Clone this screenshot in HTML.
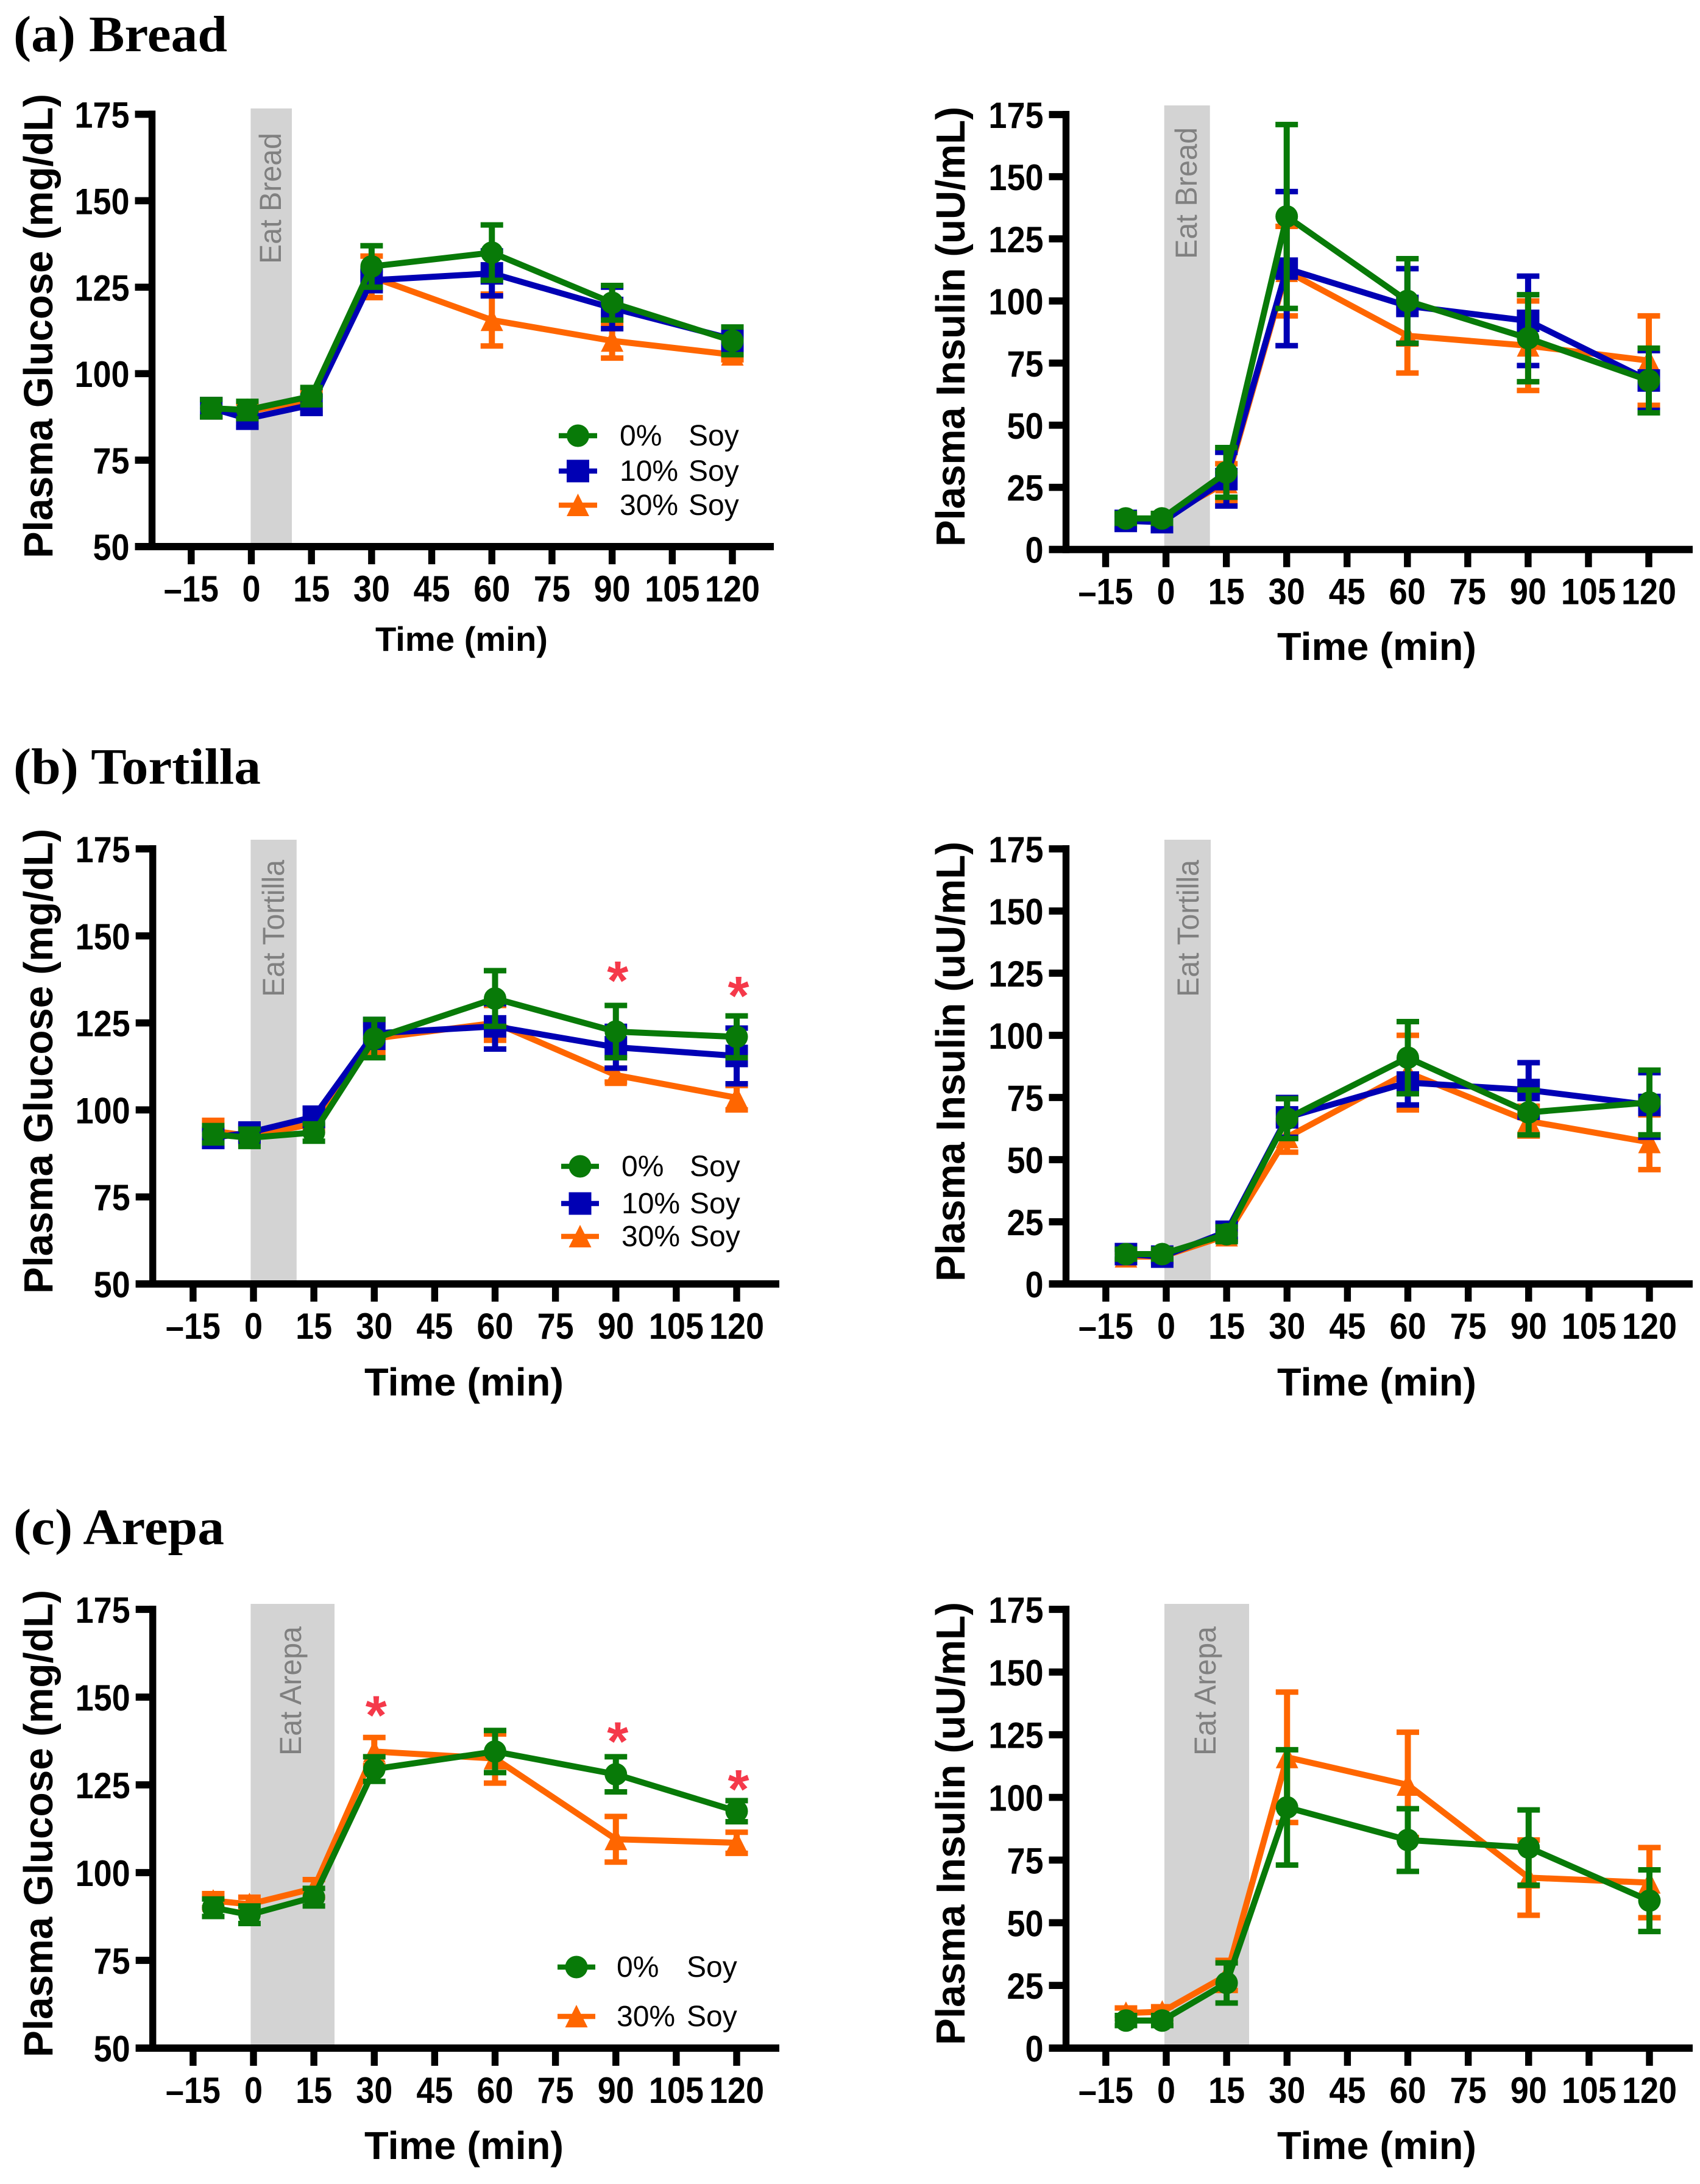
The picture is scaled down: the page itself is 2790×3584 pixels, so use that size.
<!DOCTYPE html>
<html lang="en">
<head>
<meta charset="utf-8">
<title>Plasma glucose and insulin responses by soy level</title>
<style>
html,body{margin:0;padding:0;background:#fff;}
#figure{display:block;width:2790px;height:3584px;background:#fff;}
text{font-family:"Liberation Sans",Arial,sans-serif;}
.section-title{font-family:"Liberation Serif","Times New Roman",serif;font-weight:700;font-size:84px;fill:#000;}
</style>
</head>
<body>
<svg id="figure" xmlns="http://www.w3.org/2000/svg" width="2790" height="3584" viewBox="0 0 2790 3584">
  <text class="section-title" x="22" y="84" textLength="351" lengthAdjust="spacingAndGlyphs">(a) Bread</text>
  <text class="section-title" x="22" y="1286" textLength="406" lengthAdjust="spacingAndGlyphs">(b) Tortilla</text>
  <text class="section-title" x="22" y="2534" textLength="346" lengthAdjust="spacingAndGlyphs">(c) Arepa</text>
</svg>
<script>
// ---------- shared axis data ----------
const sampleTimes = [-10, -1, 15, 30, 60, 90, 120];
const xTickValues = [-15, 0, 15, 30, 45, 60, 75, 90, 105, 120];
const xTickLabels = ['\u201315', '0', '15', '30', '45', '60', '75', '90', '105', '120'];
const glucoseTicks = [50, 75, 100, 125, 150, 175];
const insulinTicks = [0, 25, 50, 75, 100, 125, 150, 175];

// ---------- (a) bread: glucose ----------
const breadGlucose0 = [90, 89.5, 93.5, 131, 135, 120.5, 109.5];
const breadGlucose0Err = [2.5, 2.5, 2.5, 6, 8, 5, 4];
const breadGlucose10 = [90, 87, 91, 127, 129, 119, 110];
const breadGlucose10Err = [2.5, 2.5, 2.5, 3, 6.5, 6, 3];
const breadGlucose30 = [90, 89, 92.5, 128, 115.5, 109.5, 105.5];
const breadGlucose30Err = [2.5, 2.5, 2.5, 6, 7.5, 5, 1.5];
// ---------- (a) bread: insulin ----------
const breadInsulin0 = [12.5, 12.5, 31, 134, 100, 85, 68];
const breadInsulin0Err = [2, 2, 10, 37, 17, 17.5, 13];
const breadInsulin10 = [11.5, 11, 28.3, 113, 98, 92, 68];
const breadInsulin10Err = [2.5, 3, 10.8, 31, 15, 18, 12];
const breadInsulin30 = [12, 12.5, 27, 112, 86, 82, 76];
const breadInsulin30Err = [2, 2, 7.5, 18, 15, 18, 18];

// ---------- (b) tortilla: glucose ----------
const tortillaGlucose0 = [93, 92, 93.5, 120.5, 132, 122.5, 121];
const tortillaGlucose0Err = [2.5, 2.5, 2.5, 5.5, 8, 7.5, 6];
const tortillaGlucose10 = [92, 93.5, 98, 122, 124, 118, 115.5];
const tortillaGlucose10Err = [2.5, 2, 2.5, 4, 6.5, 6, 8];
const tortillaGlucose30 = [94, 92.5, 96, 120.5, 125, 110, 103.5];
const tortillaGlucose30Err = [3, 2, 2, 4, 5, 2, 3.5];
// ---------- (b) tortilla: insulin ----------
const tortillaInsulin0 = [12, 12, 20, 66.5, 91, 69, 73];
const tortillaInsulin0Err = [2, 2, 3, 8, 14.5, 9, 13];
const tortillaInsulin10 = [12, 11, 21, 67, 81, 78, 72];
const tortillaInsulin10Err = [2, 2, 3, 8, 9, 11, 13];
const tortillaInsulin30 = [11, 11, 19.5, 59, 85, 65.5, 57];
const tortillaInsulin30Err = [1.5, 1.5, 2, 6, 15, 6, 11];

// ---------- (c) arepa: glucose ----------
const arepaGlucose0 = [90, 88, 93, 129.5, 134.5, 128, 117.5];
const arepaGlucose0Err = [2.5, 2.5, 2.5, 3.5, 6, 5, 3];
const arepaGlucose30 = [92, 91, 95.5, 134.5, 132.5, 109.5, 108.5];
const arepaGlucose30Err = [2, 2, 2.5, 4, 7, 6.5, 3];
// ---------- (c) arepa: insulin ----------
const arepaInsulin0 = [11, 11, 26, 96, 83, 80, 58.8];
const arepaInsulin0Err = [2, 2, 8, 23, 12.5, 15, 12.3];
const arepaInsulin30 = [14, 14.5, 29, 116, 105, 68, 66];
const arepaInsulin30Err = [2, 2, 6, 26, 21, 15, 14];

// ---------- significance markers ----------
const tortillaStarTimes = [90, 120];
const tortillaStarLevels = [140.2, 135.8];
const arepaStarTimes = [30, 90, 120];
const arepaStarLevels = [147.8, 140.4, 126.7];

// ---------- series styling ----------
const GREEN = '#087a08', BLUE = '#0000b4', ORANGE = '#ff6600';
const S0 = {label: '0%', color: GREEN, marker: 'circle', key: '0-soy'};
const S10 = {label: '10%', color: BLUE, marker: 'square', key: '10-soy'};
const S30 = {label: '30%', color: ORANGE, marker: 'triangle', key: '30-soy'};

const NS = 'http://www.w3.org/2000/svg';
const root = document.getElementById('figure');

function mk(tag, attrs, parent) {
  const el = document.createElementNS(NS, tag);
  for (const k in attrs) el.setAttribute(k, attrs[k]);
  parent.appendChild(el);
  return el;
}

function drawMarker(kind, color, cx, cy, parent) {
  let el;
  if (kind === 'circle') {
    el = mk('circle', {cx: cx, cy: cy, r: 18.5, fill: color}, parent);
  } else if (kind === 'square') {
    el = mk('rect', {x: cx - 18.5, y: cy - 18.5, width: 37, height: 37, fill: color}, parent);
  } else {
    el = mk('polygon', {points: (cx) + ',' + (cy - 19) + ' ' + (cx + 18.5) + ',' + (cy + 18) + ' ' + (cx - 18.5) + ',' + (cy + 18), fill: color}, parent);
  }
  return el;
}

function drawChart(cfg) {
  const g = mk('g', {}, root);
  
  

  const xScale = function (t) { return cfg.x0 + (t / 120) * (cfg.x120 - cfg.x0); };
  const vMin = cfg.yTicks[0], vMax = cfg.yTicks[cfg.yTicks.length - 1];
  const yScale = function (v) { return cfg.yBottom + (v - vMin) / (vMax - vMin) * (cfg.yTop - cfg.yBottom); };

  // eating window band
  const band = mk('rect', {x: cfg.bandLeft, y: cfg.bandTop, width: cfg.bandRight - cfg.bandLeft, height: cfg.yBottom - cfg.bandTop, fill: '#d3d3d3'}, g);
  
  
  const bandLabel = mk('text', {x: 0, y: 0, transform: 'translate(' + cfg.bandTextX + ',' + cfg.bandTextY + ') rotate(-90)', fill: '#808080', 'font-size': 50, textLength: cfg.bandTextLen, lengthAdjust: 'spacingAndGlyphs'}, g);
  bandLabel.textContent = cfg.bandText;
  
  

  // series drawn back to front
  cfg.series.forEach(function (s) {
    const sg = mk('g', {}, g);
    
    
    const pts = sampleTimes.map(function (t, i) { return xScale(t) + ',' + yScale(s.values[i]); }).join(' ');
    const line = mk('polyline', {points: pts, fill: 'none', stroke: s.style.color, 'stroke-width': 10, 'stroke-linejoin': 'miter'}, sg);
    
    
    sampleTimes.forEach(function (t, i) {
      const cx = xScale(t), hi = yScale(s.values[i] + s.errs[i]), lo = yScale(s.values[i] - s.errs[i]);
      const caps = mk('path', {d: 'M' + (cx - 18.5) + ' ' + hi + 'H' + (cx + 18.5) + 'M' + (cx - 18.5) + ' ' + lo + 'H' + (cx + 18.5), fill: 'none', stroke: s.style.color, 'stroke-width': 9}, sg);
      
      
      const stem = mk('line', {x1: cx, x2: cx, y1: hi, y2: lo, stroke: s.style.color, 'stroke-width': 10}, sg);
      
      
      const m = drawMarker(s.style.marker, s.style.color, cx, yScale(s.values[i]), sg);
      
      
    });
  });

  // significance stars
  if (cfg.starTimes) {
    cfg.starTimes.forEach(function (t, i) {
      const star = mk('text', {x: xScale(t) + 3, y: yScale(cfg.starLevels[i]) + 48, 'text-anchor': 'middle', 'font-size': 90, 'font-weight': 700, fill: '#f5394a'}, g);
      star.textContent = '*';
      
      
    });
  }

  // y axis
  const yAxis = mk('g', {}, g);
  
  
  mk('line', {x1: cfg.axisX, x2: cfg.axisX, y1: cfg.yTop - 6, y2: cfg.yBottom + 6, stroke: '#000', 'stroke-width': 11.4}, yAxis);
  cfg.yTicks.forEach(function (v) {
    const y = yScale(v);
    mk('line', {x1: cfg.axisX - 28, x2: cfg.axisX, y1: y, y2: y, stroke: '#000', 'stroke-width': 11.7}, yAxis);
    const lab = mk('text', {x: 0, y: 0, transform: 'translate(' + (cfg.axisX - 37) + ',' + (y + 22) + ') scale(0.9,1)', 'text-anchor': 'end', 'font-size': 60, 'font-weight': 700, fill: '#000'}, yAxis);
    lab.textContent = String(v);
    
    
  });
  const yTitle = mk('text', {x: 0, y: 0, transform: 'translate(' + cfg.yTitleX + ',' + cfg.yTitleBottom + ') rotate(-90)', 'font-size': 67, 'font-weight': 700, fill: '#000', textLength: cfg.yTitleLen, lengthAdjust: 'spacingAndGlyphs'}, g);
  yTitle.textContent = cfg.yTitle;
  
  

  // x axis
  const xAxis = mk('g', {}, g);
  
  
  mk('line', {x1: cfg.axisX - 28, x2: cfg.axisEnd, y1: cfg.yBottom, y2: cfg.yBottom, stroke: '#000', 'stroke-width': 12}, xAxis);
  xTickValues.forEach(function (t, i) {
    const x = xScale(t);
    mk('line', {x1: x, x2: x, y1: cfg.yBottom, y2: cfg.yBottom + 29, stroke: '#000', 'stroke-width': 11.4}, xAxis);
    const lab = mk('text', {x: 0, y: 0, transform: 'translate(' + x + ',' + (cfg.yBottom + 90) + ') scale(0.9,1)', 'text-anchor': 'middle', 'font-size': 60, 'font-weight': 700, fill: '#000'}, xAxis);
    lab.textContent = xTickLabels[i];
    
    
  });
  const xTitle = mk('text', {x: cfg.xTitleX, y: cfg.xTitleY, 'font-size': cfg.xTitleSize, 'font-weight': 700, fill: '#000', textLength: cfg.xTitleLen, lengthAdjust: 'spacingAndGlyphs'}, g);
  xTitle.textContent = 'Time (min)';
  
  

  // legend
  if (cfg.legend) {
    const lg = mk('g', {}, g);
    
    
    cfg.legend.rows.forEach(function (row) {
      const st = row.style;
      const e = mk('g', {}, lg);
      
      
      const cx = (cfg.legend.x1 + cfg.legend.x2) / 2;
      mk('line', {x1: cfg.legend.x1, x2: cfg.legend.x2, y1: row.y, y2: row.y, stroke: st.color, 'stroke-width': 8.5}, e);
      drawMarker(st.marker, st.color, cx, row.y, e);
      const baseY = row.y + 16;
      const pct = mk('text', {x: cfg.legend.textX, y: baseY, 'font-size': 48, fill: '#000'}, e);
      pct.textContent = st.label;
      const soy = mk('text', {x: cfg.legend.soyX, y: baseY, 'font-size': 48, fill: '#000'}, e);
      soy.textContent = 'Soy';
    });
  }
}

const leftBase = {yTicks: glucoseTicks, yTitle: 'Plasma Glucose (mg/dL)', yTitleX: 86, yTitleLen: 762};
const rightBase = {yTicks: insulinTicks, yTitle: 'Plasma Insulin (uU/mL)', yTitleX: 1583, yTitleLen: 722, axisX: 1749.5, axisEnd: 2778, xTitleSize: 64, xTitleX: 2096, xTitleLen: 327};

drawChart(Object.assign({}, leftBase, {
  name: 'bread-glucose', axisX: 249.5, axisEnd: 1270, x0: 412.5, x120: 1202, yTop: 187.5, yBottom: 897,
  bandLeft: 411.4, bandTop: 178, bandRight: 479, bandText: 'Eat Bread', bandTextX: 461, bandTextY: 433, bandTextLen: 215,
  yTitleBottom: 916, xTitleX: 616, xTitleY: 1068, xTitleSize: 56, xTitleLen: 283,
  series: [
    {style: S30, values: breadGlucose30, errs: breadGlucose30Err},
    {style: S10, values: breadGlucose10, errs: breadGlucose10Err},
    {style: S0, values: breadGlucose0, errs: breadGlucose0Err}
  ],
  legend: {x1: 917, x2: 980, textX: 1017, soyX: 1130, rows: [{style: S0, y: 715}, {style: S10, y: 773}, {style: S30, y: 829}]}
}));

drawChart(Object.assign({}, rightBase, {
  name: 'bread-insulin', x0: 1913.6, x120: 2706, yTop: 188, yBottom: 901.7,
  bandLeft: 1910.7, bandTop: 173, bandRight: 1985.7, bandText: 'Eat Bread', bandTextX: 1964, bandTextY: 425, bandTextLen: 216,
  yTitleBottom: 897, xTitleY: 1083,
  series: [
    {style: S30, values: breadInsulin30, errs: breadInsulin30Err},
    {style: S10, values: breadInsulin10, errs: breadInsulin10Err},
    {style: S0, values: breadInsulin0, errs: breadInsulin0Err}
  ]
}));

drawChart(Object.assign({}, leftBase, {
  name: 'tortilla-glucose', axisX: 250.7, axisEnd: 1279, x0: 416, x120: 1209, yTop: 1393, yBottom: 2107,
  bandLeft: 411.4, bandTop: 1378, bandRight: 486.8, bandText: 'Eat Tortilla', bandTextX: 466, bandTextY: 1636, bandTextLen: 225,
  yTitleBottom: 2123, yTitleLen: 763, xTitleX: 598, xTitleY: 2290, xTitleSize: 64, xTitleLen: 327,
  series: [
    {style: S30, values: tortillaGlucose30, errs: tortillaGlucose30Err},
    {style: S10, values: tortillaGlucose10, errs: tortillaGlucose10Err},
    {style: S0, values: tortillaGlucose0, errs: tortillaGlucose0Err}
  ],
  starTimes: tortillaStarTimes, starLevels: tortillaStarLevels,
  legend: {x1: 921, x2: 983, textX: 1020, soyX: 1132, rows: [{style: S0, y: 1914}, {style: S10, y: 1975}, {style: S30, y: 2029}]}
}));

drawChart(Object.assign({}, rightBase, {
  name: 'tortilla-insulin', x0: 1914, x120: 2707, yTop: 1393, yBottom: 2107,
  bandLeft: 1911, bandTop: 1378, bandRight: 1987, bandText: 'Eat Tortilla', bandTextX: 1967, bandTextY: 1636, bandTextLen: 225,
  yTitleBottom: 2103, xTitleY: 2290,
  series: [
    {style: S30, values: tortillaInsulin30, errs: tortillaInsulin30Err},
    {style: S10, values: tortillaInsulin10, errs: tortillaInsulin10Err},
    {style: S0, values: tortillaInsulin0, errs: tortillaInsulin0Err}
  ]
}));

drawChart(Object.assign({}, leftBase, {
  name: 'arepa-glucose', axisX: 250.7, axisEnd: 1279, x0: 416, x120: 1209, yTop: 2641, yBottom: 3361,
  bandLeft: 411.4, bandTop: 2632, bandRight: 549, bandText: 'Eat Arepa', bandTextX: 494, bandTextY: 2881, bandTextLen: 212,
  yTitleBottom: 3376, yTitleLen: 767, xTitleX: 598, xTitleY: 3543, xTitleSize: 64, xTitleLen: 327,
  series: [
    {style: S30, values: arepaGlucose30, errs: arepaGlucose30Err},
    {style: S0, values: arepaGlucose0, errs: arepaGlucose0Err}
  ],
  starTimes: arepaStarTimes, starLevels: arepaStarLevels,
  legend: {x1: 915, x2: 977, textX: 1012, soyX: 1127, rows: [{style: S0, y: 3228}, {style: S30, y: 3309}]}
}));

drawChart(Object.assign({}, rightBase, {
  name: 'arepa-insulin', x0: 1914, x120: 2707, yTop: 2641, yBottom: 3361,
  bandLeft: 1911, bandTop: 2632, bandRight: 2050, bandText: 'Eat Arepa', bandTextX: 1995, bandTextY: 2881, bandTextLen: 212,
  yTitleBottom: 3356, yTitleLen: 727, xTitleY: 3543,
  series: [
    {style: S30, values: arepaInsulin30, errs: arepaInsulin30Err},
    {style: S0, values: arepaInsulin0, errs: arepaInsulin0Err}
  ]
}));
</script>
</body>
</html>
